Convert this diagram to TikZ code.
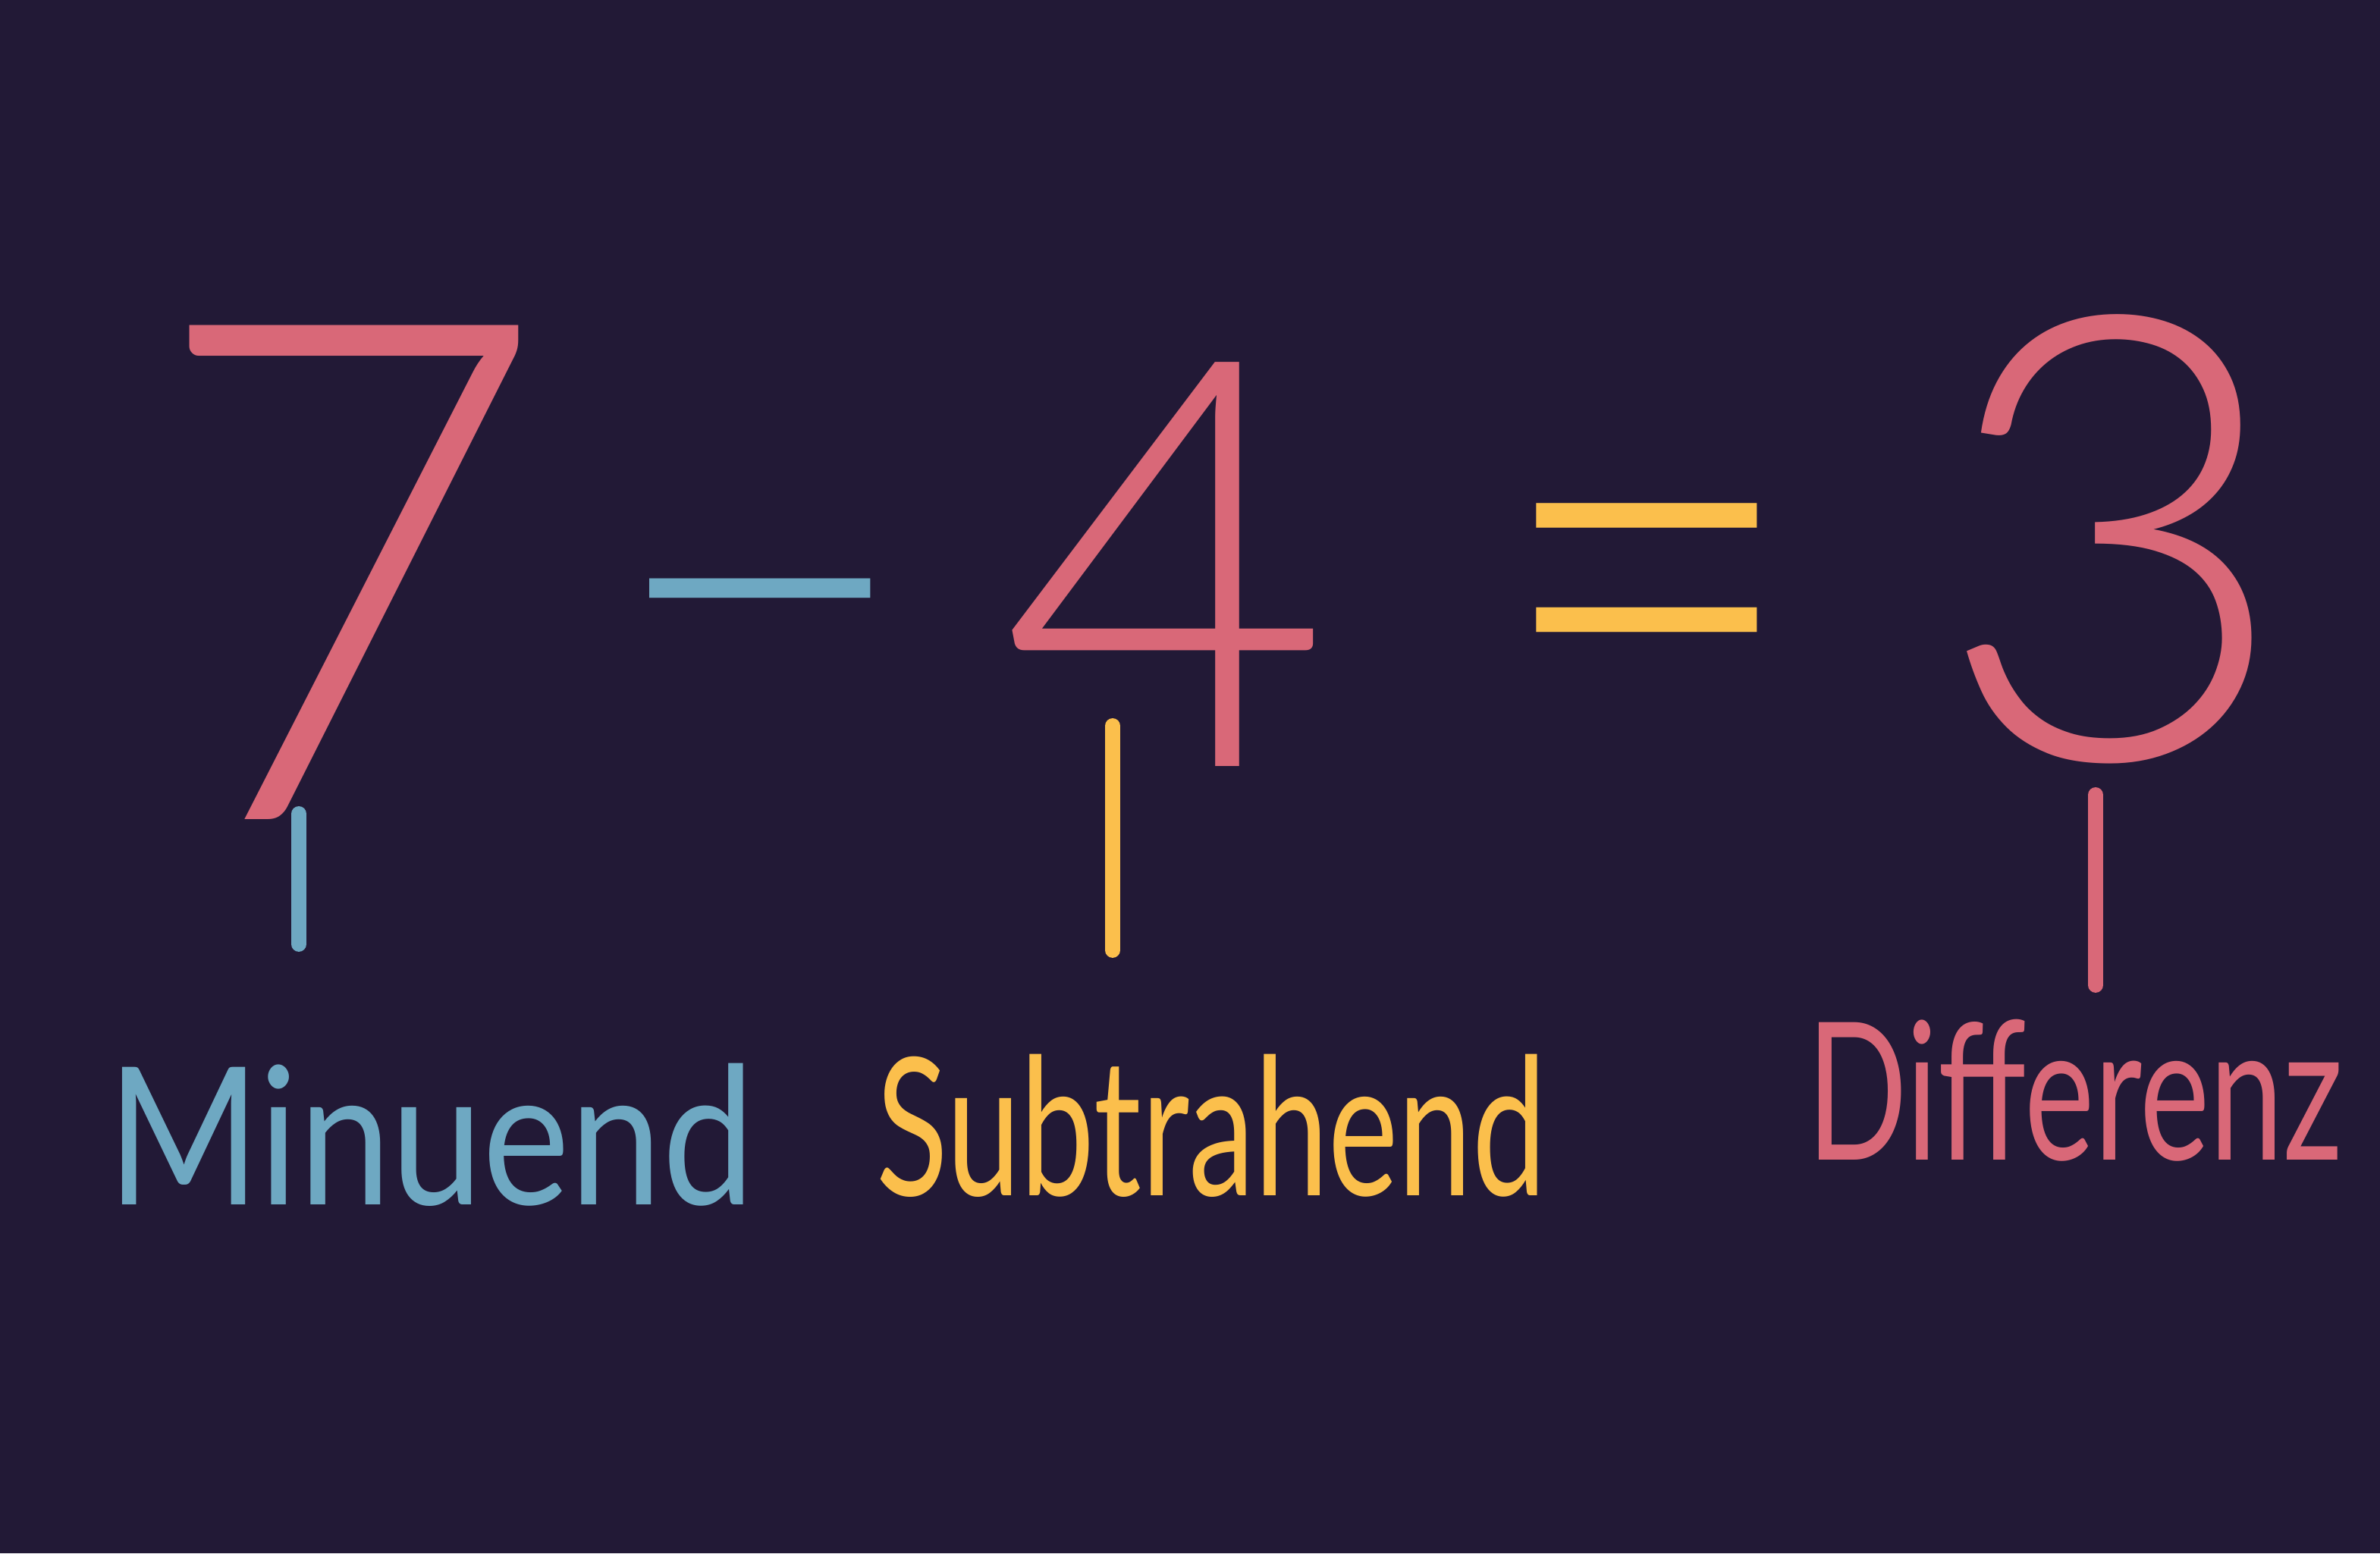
\documentclass[tikz,border=0pt]{standalone}
\usepackage{fontspec}
\setmainfont{Lato}
\newfontfamily\thinfont{Lato}[UprightFont={* Light}]
\definecolor{board}{HTML}{221936}
\definecolor{chalkpink}{HTML}{D96878}
\definecolor{chalkblue}{HTML}{6EA8C2}
\definecolor{chalkyellow}{HTML}{FBBF4C}

\begin{document}
\begin{tikzpicture}[
	digit/.style={text=chalkpink, inner sep=0pt, anchor=base},
	sign/.style={inner sep=0pt, anchor=base},
	termname/.style={inner sep=0pt, anchor=base, font=\fontsize{72}{72}\selectfont},
	pointer/.style={line width=2mm, line cap=round},
]
	% board
	\fill[board] (0,0) rectangle (31.38,20.48);
	\useasboundingbox (0,0) rectangle (31.38,20.48);
	% 7 - 4 = 3
	\node[digit, font=\thinfont\fontsize{262}{262}\selectfont] (seven) at (4.6,9.68) {7};
	\node[sign, text=chalkblue, font=\thinfont\fontsize{200}{200}\selectfont] (minus) at (10.02,10.37) {−};
	\node[digit, font=\thinfont\fontsize{214}{214}\selectfont] (four) at (15.38,10.38) {4};
	\node[sign, text=chalkyellow, font=\thinfont\fontsize{250}{250}\selectfont] (equals) at (21.71,10.03) {\scalebox{0.8}[1]{=}};
	\node[digit, font=\thinfont\fontsize{233}{233}\selectfont] (three) at (27.86,10.48) {3};
	% names of the terms
	\node[termname, text=chalkblue] (minuend) at (5.68,4.6) {\scalebox{0.86}[1]{Minuend}};
	\node[termname, text=chalkyellow] (subtrahend) at (15.97,4.72) {\scalebox{0.69}[1]{Subtrahend}};
	\node[termname, text=chalkpink] (differenz) at (27.36,5.19) {\scalebox{0.69}[1]{Differenz}};
	% pointers
	\coordinate (minuend top) at (3.94,9.75);
	\coordinate (subtrahend top) at (14.67,10.91);
	\coordinate (differenz top) at (27.63,10.0);
	\draw[pointer, chalkblue, shorten >=1.56cm] (minuend top) -- (minuend top |- minuend.north);
	\draw[pointer, chalkyellow, shorten >=1.36cm] (subtrahend top) -- (subtrahend top |- subtrahend.north);
	\draw[pointer, chalkpink, shorten >=0.44cm] (differenz top) -- (differenz top |- differenz.north);
\end{tikzpicture}
\end{document}
